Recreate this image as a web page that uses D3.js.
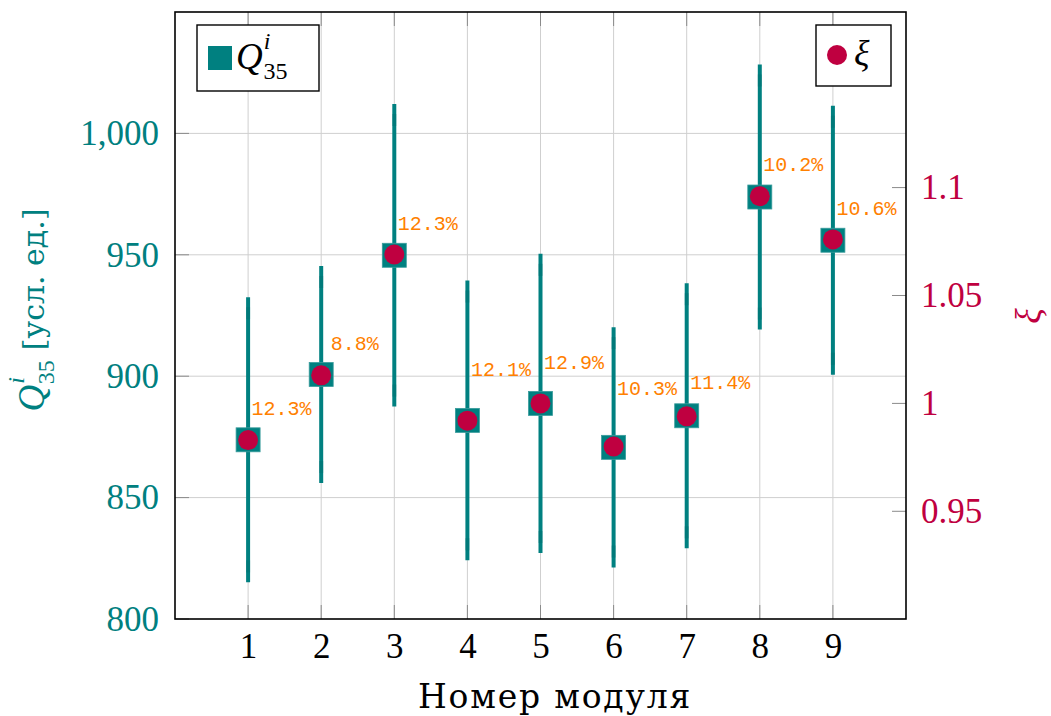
<!DOCTYPE html>
<html>
<head>
<meta charset="utf-8">
<script src="https://cdn.jsdelivr.net/npm/d3@7"></script>
<style>
  html, body { margin: 0; padding: 0; background: #fff; }
  svg { display: block; }
</style>
</head>
<body>
<svg id="chart" width="1051" height="716"></svg>
<script>
// ---------- data ----------
const modules   = [1, 2, 3, 4, 5, 6, 7, 8, 9];
const qValues   = [873.8, 900.7, 949.8, 881.8, 888.8, 870.7, 883.7, 973.8, 956.0];
const qErrors   = [58.7, 44.7, 62.3, 57.6, 61.6, 49.5, 54.6, 54.6, 55.4];
const xiValues  = [0.983, 1.013, 1.069, 0.992, 1.000, 0.980, 0.994, 1.096, 1.076];
const pctLabels = ["12.3%", "8.8%", "12.3%", "12.1%", "12.9%", "10.3%", "11.4%", "10.2%", "10.6%"];
const qTicks    = [800, 850, 900, 950, 1000];
const xiTicks   = [0.95, 1, 1.05, 1.1];
const xTicks    = [1, 2, 3, 4, 5, 6, 7, 8, 9];
const qDomain   = [800, 1050];
const xiRef     = 888.8;   // median of Q, ξ = Q / ref

// ---------- layout ----------
const TEAL = "#008080", PURPLE = "#BF0040", ORANGE = "#FF8000";
const L = 175, R = 906, T = 12, B = 619;
const labelDy = [25, 25, 25, 44, 34, 52, 27, 26, 25];
const serif = "'Liberation Serif', 'Times New Roman', serif";
const cyr = "'DejaVu Serif', serif";
const mono = "'Liberation Mono', 'DejaVu Sans Mono', monospace";

const svg = d3.select("#chart");
const x = d3.scaleLinear().domain([0, 10]).range([L, R]);
const yL = d3.scaleLinear().domain(qDomain).range([B, T]);
const yR = d3.scaleLinear().domain([qDomain[0] / xiRef, qDomain[1] / xiRef]).range([B, T]);

// grid
const grid = svg.append("g");
grid.selectAll("line.v").data(xTicks).join("line")
  .attr("x1", d => x(d)).attr("x2", d => x(d)).attr("y1", T).attr("y2", B)
  .attr("stroke", "#cfcfcf").attr("stroke-width", 1);
grid.selectAll("line.h").data(qTicks.filter(d => d > qDomain[0])).join("line")
  .attr("x1", L).attr("x2", R).attr("y1", d => yL(d)).attr("y2", d => yL(d))
  .attr("stroke", "#cfcfcf").attr("stroke-width", 1);

// tick marks (inward)
const TL = 14;
const ticks = svg.append("g").attr("stroke", "#8a8a8a").attr("stroke-width", 1);
xTicks.forEach(d => {
  ticks.append("line").attr("x1", x(d)).attr("x2", x(d)).attr("y1", B).attr("y2", B - TL);
  ticks.append("line").attr("x1", x(d)).attr("x2", x(d)).attr("y1", T).attr("y2", T + TL);
});
qTicks.forEach(d => {
  ticks.append("line").attr("x1", L).attr("x2", L + TL).attr("y1", yL(d)).attr("y2", yL(d));
});
xiTicks.forEach(d => {
  ticks.append("line").attr("x1", R - TL).attr("x2", R).attr("y1", yR(d)).attr("y2", yR(d));
});

// axes labels via d3 axes (text only)
const axL = svg.append("g").attr("transform", `translate(${L},0)`)
  .call(d3.axisLeft(yL).tickValues(qTicks).tickSize(0).tickPadding(16).tickFormat(d3.format(",")));
axL.select(".domain").remove();
axL.selectAll("text").attr("font-family", serif).attr("font-size", 35).attr("fill", TEAL);

const axR = svg.append("g").attr("transform", `translate(${R},0)`)
  .call(d3.axisRight(yR).tickValues(xiTicks).tickSize(0).tickPadding(15).tickFormat(d => String(d)));
axR.select(".domain").remove();
axR.selectAll("text").attr("font-family", serif).attr("font-size", 35).attr("fill", PURPLE);

const axB = svg.append("g").attr("transform", `translate(0,${B})`)
  .call(d3.axisBottom(x).tickValues(xTicks).tickSize(0).tickPadding(14).tickFormat(d3.format("d")));
axB.select(".domain").remove();
axB.selectAll("text").attr("font-family", serif).attr("font-size", 35).attr("fill", "#000");

// error bars
const pts = modules.map((m, i) => ({ m, q: qValues[i], e: qErrors[i], xi: xiValues[i], lab: pctLabels[i], dy: labelDy[i] }));
const eb = svg.append("g");
eb.selectAll("line.bar").data(pts).join("line")
  .attr("x1", d => x(d.m)).attr("x2", d => x(d.m))
  .attr("y1", d => yL(d.q + d.e)).attr("y2", d => yL(d.q - d.e))
  .attr("stroke", TEAL).attr("stroke-width", 4);
// subtle cap marks near the ends
pts.forEach(d => {
  const top = yL(d.q + d.e), bot = yL(d.q - d.e);
  eb.append("line").attr("x1", x(d.m)).attr("x2", x(d.m)).attr("y1", top + 10).attr("y2", top + 22)
    .attr("stroke", "#006f6f").attr("stroke-width", 4).attr("opacity", 0.4);
  eb.append("line").attr("x1", x(d.m)).attr("x2", x(d.m)).attr("y1", bot - 22).attr("y2", bot - 10)
    .attr("stroke", "#006f6f").attr("stroke-width", 4).attr("opacity", 0.4);
});

// square markers (Q)
svg.append("g").selectAll("rect").data(pts).join("rect")
  .attr("x", d => x(d.m) - 12).attr("y", d => yL(d.q) - 12)
  .attr("width", 24).attr("height", 24)
  .attr("fill", TEAL).attr("stroke", "#3a9c9c").attr("stroke-width", 0.8);

// circle markers (ξ)
svg.append("g").selectAll("circle").data(pts).join("circle")
  .attr("cx", d => x(d.m)).attr("cy", d => yR(d.xi)).attr("r", 10)
  .attr("fill", PURPLE);

// percent labels
svg.append("g").selectAll("text").data(pts).join("text")
  .attr("x", d => x(d.m) + 33.5).attr("y", d => yL(d.q) - d.dy)
  .attr("text-anchor", "middle")
  .attr("font-family", mono).attr("font-size", 20).attr("fill", ORANGE)
  .text(d => d.lab);

// frame
svg.append("rect").attr("x", L).attr("y", T).attr("width", R - L).attr("height", B - T)
  .attr("fill", "none").attr("stroke", "#000").attr("stroke-width", 1.6);

// legends
const lg1 = svg.append("g");
lg1.append("rect").attr("x", 197).attr("y", 25).attr("width", 122).attr("height", 66)
  .attr("fill", "#fff").attr("stroke", "#000").attr("stroke-width", 1.4);
lg1.append("rect").attr("x", 208).attr("y", 46).attr("width", 24).attr("height", 24).attr("fill", TEAL);
const t1 = lg1.append("text").attr("x", 236).attr("y", 69).attr("font-family", serif).attr("font-size", 37);
t1.append("tspan").attr("font-style", "italic").text("Q");
t1.append("tspan").attr("font-style", "italic").attr("font-size", 24).attr("dx", 1).attr("dy", -20).text("i");
t1.append("tspan").attr("font-size", 24).attr("dx", -7).attr("dy", 30).text("35");

const lg2 = svg.append("g");
lg2.append("rect").attr("x", 816).attr("y", 25).attr("width", 75).attr("height", 61)
  .attr("fill", "#fff").attr("stroke", "#000").attr("stroke-width", 1.4);
lg2.append("circle").attr("cx", 837).attr("cy", 55).attr("r", 10).attr("fill", PURPLE);
lg2.append("text").attr("x", 854).attr("y", 65).attr("font-family", serif).attr("font-size", 36)
  .attr("font-style", "italic").text("ξ");

// axis titles
svg.append("text").attr("x", 555).attr("y", 708).attr("text-anchor", "middle")
  .attr("font-family", cyr).attr("font-size", 33).attr("letter-spacing", 1.8).text("Номер модуля");

const yt = svg.append("text").attr("transform", "translate(44,310) rotate(-90)")
  .attr("text-anchor", "middle").attr("font-family", serif).attr("font-size", 37).attr("fill", TEAL);
yt.append("tspan").attr("font-style", "italic").text("Q");
yt.append("tspan").attr("font-style", "italic").attr("font-size", 24).attr("dx", 1).attr("dy", -20).text("i");
yt.append("tspan").attr("font-size", 24).attr("dx", -7).attr("dy", 30).text("35");
yt.append("tspan").attr("dy", -10).attr("dx", 10).attr("font-family", cyr).attr("font-size", 30).text("[усл. ед.]");

svg.append("text").attr("transform", "translate(1040,316) rotate(-90)")
  .attr("text-anchor", "middle").attr("font-family", serif).attr("font-size", 36)
  .attr("font-style", "italic").attr("fill", PURPLE).text("ξ");
</script>
</body>
</html>
